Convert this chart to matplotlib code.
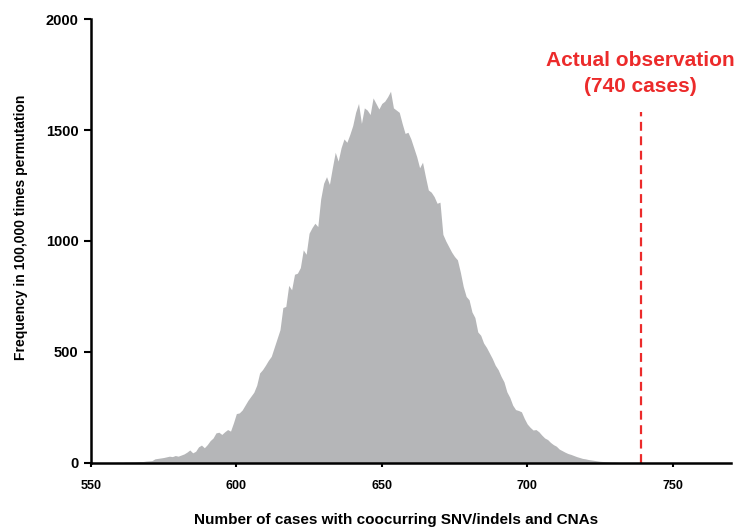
import numpy as np
from matplotlib import pyplot as plt

# permutation counts
casesStart = 555
freq = [0, 1, 1, 1, 2, 2, 2, 3, 3, 4,
        4, 5, 6, 6, 8, 9, 10, 18, 20, 22,
        24, 27, 30, 28, 33, 30, 35, 40, 48, 58,
        45, 52, 72, 80, 68, 82, 100, 112, 135, 138,
        128, 140, 150, 143, 180, 222, 225, 238, 260, 282,
        300, 318, 350, 405, 420, 440, 462, 480, 520, 560,
        600, 700, 705, 800, 780, 850, 855, 880, 960, 940,
        1035, 1060, 1080, 1065, 1190, 1260, 1290, 1255, 1330, 1400,
        1360, 1420, 1460, 1445, 1480, 1520, 1580, 1620, 1530, 1600,
        1590, 1570, 1645, 1620, 1595, 1620, 1630, 1650, 1675, 1600,
        1590, 1580, 1530, 1485, 1490, 1460, 1420, 1380, 1330, 1355,
        1290, 1230, 1220, 1200, 1170, 1175, 1030, 1000, 975, 950,
        930, 915, 860, 795, 750, 735, 680, 655, 590, 575,
        540, 520, 495, 470, 440, 420, 390, 365, 320, 295,
        260, 240, 236, 230, 200, 175, 160, 148, 150, 140,
        125, 112, 105, 92, 82, 75, 62, 55, 48, 42,
        38, 33, 28, 24, 20, 18, 15, 13, 11, 9,
        7, 6, 5, 4, 3, 3, 2, 1, 1, 0]
cases = np.arange(casesStart, casesStart + len(freq))

observed = 739
observedTop = 1580
observedText = 'Actual observation\n(740 cases)'

xTicks = [550, 600, 650, 700, 750]
yTicks = [0, 500, 1000, 1500, 2000]

plt.rcParams['font.family'] = ['Liberation Sans', 'DejaVu Sans']
plt.rcParams['font.weight'] = 'bold'

fig = plt.figure(figsize=(7.39, 5.32), dpi=100)
ax = fig.add_axes([0.123, 0.13, 0.866, 0.834])

ax.fill_between(cases, freq, 0, color='#b5b6b8', linewidth=0)
ax.plot([observed, observed], [0, observedTop], color='#ec2b2b',
        linestyle=(0, (4, 2.5)), linewidth=1.6)
ax.text(observed, 1755, observedText, color='#ec2b2b', fontsize=15,
        fontweight='bold', ha='center', va='center', linespacing=1.5)

ax.set_xlim(550, 770)
ax.set_ylim(0, 2000)
ax.set_xticks(xTicks)
ax.set_yticks(yTicks)
ax.tick_params(axis='x', labelsize=9, width=1.5, length=3, direction='out', pad=9)
ax.tick_params(axis='y', labelsize=10.5, width=1.5, length=5, direction='out', pad=4)
for lab in ax.get_xticklabels() + ax.get_yticklabels():
    lab.set_fontweight('bold')

for side in ['top', 'right']:
    ax.spines[side].set_visible(False)
ax.spines['left'].set_linewidth(1.8)
ax.spines['bottom'].set_linewidth(1.8)

ax.set_xlabel('Number of cases with coocurring SNV/indels and CNAs',
              fontsize=11, fontweight='bold')
ax.xaxis.set_label_coords(0.477, -0.113)
ax.set_ylabel('Frequency in 100,000 times permutation',
              fontsize=10, fontweight='bold')
ax.yaxis.set_label_coords(-0.098, 0.53)

fig.savefig('out.png', dpi=100)
